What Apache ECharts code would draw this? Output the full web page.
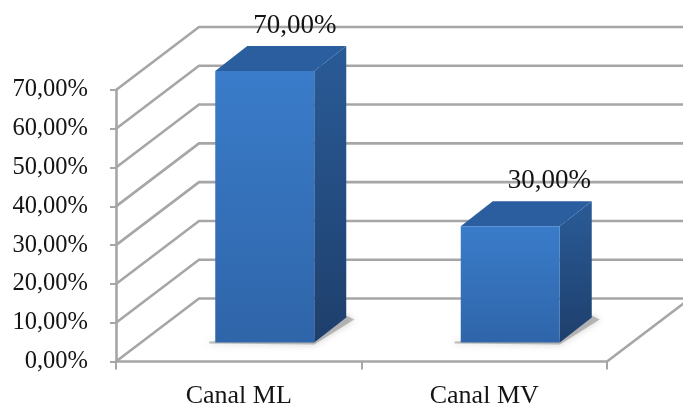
<!DOCTYPE html>
<html>
<head>
<meta charset="utf-8">
<style>html,body{margin:0;padding:0;background:#fff}#chart{width:683px;height:407px}</style>
<script src="https://cdn.jsdelivr.net/npm/echarts@6/dist/echarts.min.js"></script>
</head>
<body>
<div id="chart"></div>
<script>
// Share of each channel, in percent
const categories = ['Canal ML', 'Canal MV'];
const shares = [70, 30];
const axisTicks = [0, 10, 20, 30, 40, 50, 60, 70];

const GRID_COLOR = '#a6a6a6';
const TEXT_COLOR = '#141414';
const FONT = '"Liberation Serif", serif';
const LINE_WIDTH = 2.6;
const percent = v => v.toFixed(2).replace('.', ',') + '%';

// Oblique depth of the chart box and of the bars
const WALL_DX = 83, WALL_DY = -63;
const BAR_DX = 32, BAR_DY = -25;
const BAR_WIDTH = 99, BAR_SHIFT_X = 26, BAR_SHIFT_Y = -19;

const chart = echarts.init(document.getElementById('chart'), null, { renderer: 'canvas' });

// Wall and floor lines: diagonal from the axis, then across the back wall
function renderWallLine(params, api) {
  const p = api.coord([0, api.value(0)]);
  const band = api.size([1, 0])[0];
  const x0 = p[0] - band / 2;
  const x1 = x0 + band * 2;
  const children = [{
    type: 'polyline',
    shape: { points: [[x0, p[1]], [x0 + WALL_DX, p[1] + WALL_DY], [x1 + WALL_DX, p[1] + WALL_DY]] },
    style: { fill: 'none', stroke: GRID_COLOR, lineWidth: LINE_WIDTH }
  }];
  if (api.value(0) === 0) {
    children.push({
      type: 'line',
      shape: { x1: x1, y1: p[1], x2: x1 + WALL_DX, y2: p[1] + WALL_DY },
      style: { stroke: GRID_COLOR, lineWidth: LINE_WIDTH }
    });
  }
  return { type: 'group', children };
}

// One extruded bar: floor shadow, side, top, front and the value label
function renderBar(params, api) {
  const i = api.value(0), v = api.value(1);
  const top = api.coord([i, v]), base = api.coord([i, 0]);
  const l = top[0] + BAR_SHIFT_X - BAR_WIDTH / 2;
  const r = l + BAR_WIDTH;
  const t = top[1] + BAR_SHIFT_Y;
  const b = base[1] + BAR_SHIFT_Y;
  const poly = (points, fill, extra) => ({
    type: 'polygon', shape: { points },
    style: Object.assign({ fill }, extra || {})
  });
  const vertical = (a, c) => new echarts.graphic.LinearGradient(0, 0, 0, 1, [
    { offset: 0, color: a }, { offset: 1, color: c }
  ]);
  return {
    type: 'group',
    children: [
      poly([[l - 6, b + 1], [r, b + 2], [r + BAR_DX + 8, b + BAR_DY + 2], [r + BAR_DX, b + BAR_DY - 2], [r, b - 4], [l - 6, b - 1]],
        'rgba(130,130,130,0.5)', { shadowBlur: 7, shadowColor: 'rgba(120,120,120,0.7)' }),
      poly([[r, t], [r + BAR_DX, t + BAR_DY], [r + BAR_DX, b + BAR_DY], [r, b]],
        vertical('#2a5b97', '#1e3f6c')),
      poly([[l, t], [l + BAR_DX, t + BAR_DY], [r + BAR_DX, t + BAR_DY], [r, t]], '#2b5e9f'),
      poly([[l, t], [r, t], [r, b], [l, b]], vertical('#3a7cca', '#2f65a9')),
      {
        type: 'text',
        style: {
          x: l + BAR_WIDTH / 2 + (i === 0 ? 30 : 39),
          y: t + BAR_DY - 20.5,
          text: percent(v),
          fill: TEXT_COLOR,
          font: '27px ' + FONT,
          align: 'center',
          verticalAlign: 'middle'
        }
      }
    ]
  };
}

chart.setOption({
  animation: false,
  backgroundColor: '#ffffff',
  grid: { left: 116, right: 76, top: 90, bottom: 45.5, outerBoundsMode: 'none' },
  xAxis: {
    type: 'category',
    data: categories,
    axisLine: { lineStyle: { color: GRID_COLOR, width: LINE_WIDTH } },
    axisTick: { show: true, length: 8, lineStyle: { color: GRID_COLOR, width: 2 } },
    axisLabel: { color: TEXT_COLOR, fontFamily: FONT, fontSize: 26, margin: 22 }
  },
  yAxis: {
    type: 'value',
    min: 0,
    max: 70,
    interval: 10,
    splitLine: { show: false },
    axisLine: { show: true, lineStyle: { color: GRID_COLOR, width: LINE_WIDTH } },
    axisTick: { show: true, length: 6, lineStyle: { color: GRID_COLOR, width: 2 } },
    axisLabel: { color: TEXT_COLOR, fontFamily: FONT, fontSize: 24.5, margin: 28, padding: [3, 0, 0, 0], formatter: percent }
  },
  series: [
    {
      type: 'custom',
      z: 1,
      clip: false,
      silent: true,
      coordinateSystem: 'cartesian2d',
      renderItem: renderWallLine,
      encode: { x: 1, y: 0 },
      data: axisTicks.map(t => [t, 0])
    },
    {
      type: 'custom',
      z: 3,
      clip: false,
      silent: true,
      coordinateSystem: 'cartesian2d',
      renderItem: renderBar,
      encode: { x: 0, y: 1 },
      data: shares.map((v, i) => [i, v])
    }
  ]
});
</script>
</body>
</html>
